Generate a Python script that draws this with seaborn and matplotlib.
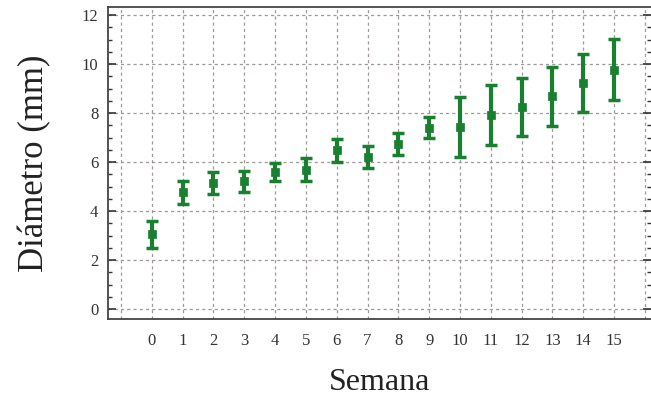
import matplotlib
matplotlib.use("Agg")
import matplotlib.pyplot as plt
import seaborn as sns
import pandas as pd
from matplotlib.ticker import MultipleLocator, FixedLocator

semanas = list(range(16))
diametro = [3.05, 4.77, 5.15, 5.22, 5.60, 5.70, 6.48, 6.23, 6.75, 7.41, 7.45, 7.93, 8.25, 8.68, 9.23, 9.78]
error = [0.55, 0.47, 0.44, 0.43, 0.38, 0.45, 0.48, 0.45, 0.45, 0.43, 1.22, 1.22, 1.20, 1.22, 1.20, 1.23]
xtick_labels = [str(s) for s in semanas]

df = pd.DataFrame({"Semana": semanas, "Diametro": diametro, "Error": error})

sns.set_theme(style="white")
plt.rcParams["font.family"] = ["Liberation Serif", "DejaVu Serif"]

green = "#18802e"
fig = plt.figure(figsize=(6.51, 4.0), dpi=100)
ax = fig.add_axes([0.166, 0.2025, 0.834, 0.7805])

ax.errorbar(df["Semana"], df["Diametro"], yerr=df["Error"], fmt="none",
            ecolor=green, elinewidth=3, capsize=4, capthick=2.5, zorder=3)
sns.scatterplot(data=df, x="Semana", y="Diametro", ax=ax, marker="s", s=36,
                color=green, edgecolor=green, linewidth=0.5, zorder=4, legend=False)

ax.set_xlim(-1.42, 16.2)
ax.set_ylim(-0.4, 12.34)

ax.xaxis.set_major_locator(FixedLocator(list(range(-1, 17))))
ax.set_xticklabels([""] + xtick_labels + [""])
ax.yaxis.set_major_locator(MultipleLocator(2))
ax.yaxis.set_minor_locator(MultipleLocator(0.5))

ax.grid(True, which="major", linestyle=(0, (2.5, 2.5)), color="#9e9898", linewidth=0.9)
ax.set_axisbelow(True)

ax.tick_params(axis="x", length=0, labelsize=12, pad=10, colors="#333333")
ax.tick_params(axis="y", which="major", direction="in", length=6, width=1.2,
               labelsize=12, left=True, right=True, pad=7, colors="#333333")
ax.tick_params(axis="y", which="minor", direction="in", length=3, width=1,
               left=True, right=True, colors="#333333")

for side in ["left", "bottom", "top"]:
    ax.spines[side].set_color("#444444")
    ax.spines[side].set_linewidth(1.3)
ax.spines["right"].set_visible(False)

ax.set_xlabel("Semana", fontsize=23, color="#222222", labelpad=14)
ax.set_ylabel("Diámetro (mm)", fontsize=25, color="#222222", labelpad=22)

fig.savefig("out.png", dpi=100)
